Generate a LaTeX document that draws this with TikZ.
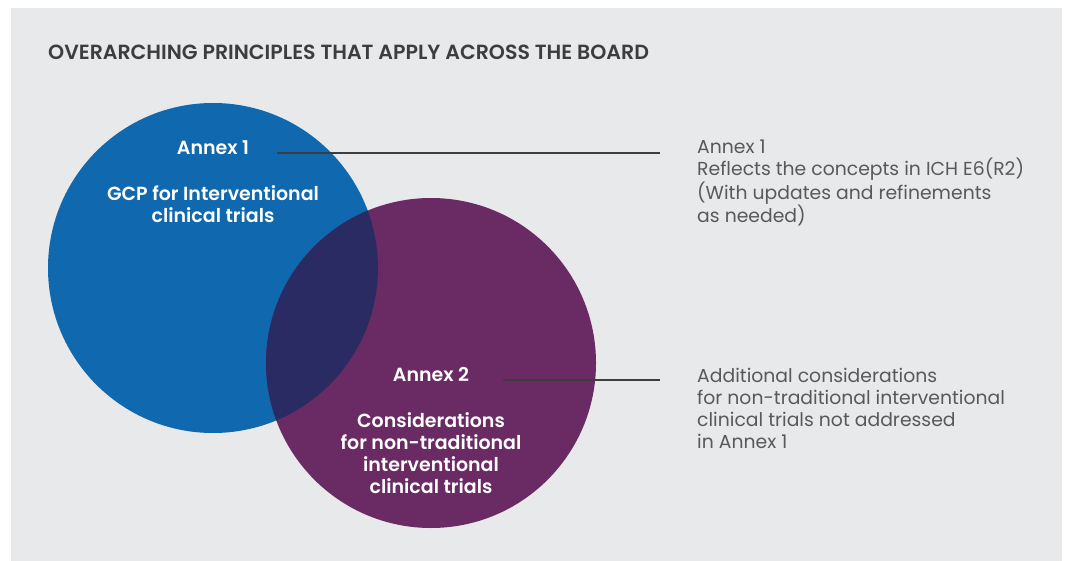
\documentclass[tikz,border=0pt]{standalone}
\usepackage{fontspec}
\setmainfont{Poppins}[BoldFont={Poppins SemiBold}]
\usepackage{xcolor}
\definecolor{bgGray}{HTML}{E8E9EB}
\definecolor{annexBlue}{HTML}{1068AE}
\definecolor{annexPurple}{HTML}{6A2B64}
\definecolor{annexDark}{HTML}{2B2B63}
\definecolor{titleGray}{HTML}{3D3D3F}
\definecolor{noteGray}{HTML}{58595B}

\begin{document}
\begin{tikzpicture}[x=1pt,y=-1pt,
   bubble/.style={circle,fill=#1,minimum size=330pt,inner sep=0pt},
   lbl/.style={text=white,font=\bfseries\fontsize{19}{22}\selectfont,align=center,inner sep=0pt},
   note/.style={text=noteGray,font=\fontsize{18.8}{22}\selectfont,align=left,anchor=north west,inner sep=0pt},
   link/.style={draw=titleGray,line width=1.1pt}]
\useasboundingbox (0,0) rectangle (1067,561);
\fill[white] (0,0) rectangle (1067,561);
\fill[bgGray] (11,8) rectangle (1062,561);
\node[anchor=west,inner sep=0pt,text=titleGray,font=\bfseries\fontsize{20.5}{22}\selectfont] (heading) at (48,52)
   {OVERARCHING PRINCIPLES THAT APPLY ACROSS THE BOARD};
% the two sets and their overlap
\node[bubble=annexBlue] (blueset) at (213,268) {};
\node[bubble=annexPurple] (purpleset) at (431,363) {};
\begin{scope}
   \clip (213,268) circle (165);
   \fill[annexDark] (431,363) circle (165);
\end{scope}
\node[lbl] (annexone) at (213,148) {Annex 1};
\node[lbl] (gcp) at (213,204) {GCP for Interventional\\clinical trials};
\node[lbl] (annextwo) at (431,375) {Annex 2};
\node[lbl] (considerations) at (431,453) {Considerations\\for non-traditional\\interventional\\clinical trials};
% notes on the right
\node[note] (noteone) at (697,140) {Annex 1\\Reflects the concepts in ICH E6(R2)\\(With updates and refinements\\as needed)};
\node[note] (notetwo) at (697,368) {Additional considerations\\for non-traditional interventional\\clinical trials not addressed\\in Annex 1};
\coordinate (pinone) at (277,153);
\coordinate (endone) at (660,153);
\coordinate (pintwo) at (503,380);
\coordinate (endtwo) at (660,380);
\draw[link] (pinone) -- (endone);
\draw[link] (pintwo) -- (endtwo);
\end{tikzpicture}
\end{document}
